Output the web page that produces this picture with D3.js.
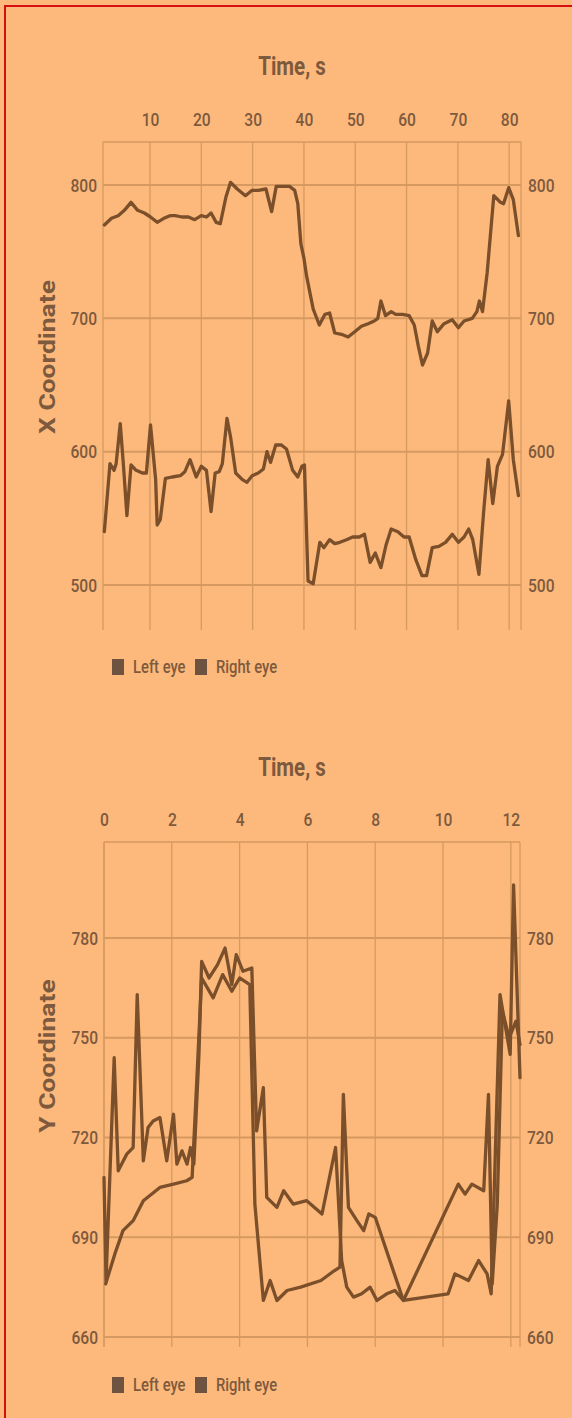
<!DOCTYPE html>
<html><head><meta charset="utf-8">
<script src="https://cdn.jsdelivr.net/npm/d3@7"></script>
<style>
html,body{margin:0;padding:0;background:#fdb97b;}
svg{display:block;}
text{font-family:Roboto,"Noto Sans",sans-serif;}
</style></head>
<body><svg id="c" width="572" height="1418"></svg>
<script>
// ---------- data ----------
const legendLabels = ["Left eye", "Right eye"];
const axisTitleTime = "Time, s";
const axisTitleX = "X Coordinate";
const axisTitleY = "Y Coordinate";

// Chart 1: X coordinate over time
const xTimeTicks = [10, 20, 30, 40, 50, 60, 70, 80];
const xValueTicks = [500, 600, 700, 800];
const leftEyeXTime = [1.1, 2.5, 3.8, 5.0, 6.3, 7.6, 8.9, 10.1, 11.4, 12.7, 13.9, 14.9, 16.2, 17.5, 18.7, 20.0, 21.0, 21.9, 22.9, 23.7, 24.8, 25.7, 27.0, 28.6, 29.9, 31.1, 32.6, 33.7, 34.6, 35.9, 37.2, 38.2, 38.8, 39.4, 40.0, 40.5, 41.8, 43.0, 44.1, 45.0, 46.0, 47.3, 48.6, 49.9, 51.2, 52.5, 53.7, 54.4, 55.0, 55.9, 57.0, 57.9, 59.2, 60.5, 61.5, 62.3, 63.1, 64.1, 65.0, 66.0, 67.3, 68.9, 70.1, 71.2, 72.8, 73.7, 74.2, 74.8, 75.7, 77.0, 78.3, 78.9, 79.9, 80.8, 81.8];
const leftEyeX = [770, 775, 777, 781, 787, 781, 779, 776, 772, 775, 777, 777, 776, 776, 774, 777, 776, 779, 772, 771, 791, 802, 797, 792, 796, 796, 797, 780, 799, 799, 799, 796, 786, 756, 745, 732, 707, 695, 703, 704, 689, 688, 686, 690, 694, 696, 698, 700, 713, 702, 705, 703, 703, 702, 695, 679, 665, 674, 698, 690, 696, 699, 693, 698, 700, 705, 713, 705, 734, 792, 787, 786, 798, 789, 762];
const rightEyeXTime = [1.1, 2.2, 3.0, 3.4, 4.2, 4.8, 5.5, 6.3, 7.3, 8.5, 9.3, 10.1, 11.1, 11.4, 12.0, 13.0, 14.3, 15.9, 16.8, 17.8, 19.0, 20.0, 21.0, 21.9, 22.7, 23.5, 24.1, 25.0, 25.7, 26.7, 28.0, 28.9, 29.9, 31.1, 32.1, 32.8, 33.5, 34.5, 35.6, 36.6, 37.8, 38.8, 39.6, 40.1, 40.8, 41.8, 43.1, 43.9, 45.0, 46.0, 47.0, 48.3, 49.5, 50.8, 51.8, 52.9, 53.9, 55.0, 56.0, 57.0, 58.3, 59.5, 60.5, 61.8, 63.0, 63.9, 65.0, 66.3, 67.6, 68.9, 70.1, 71.2, 72.1, 72.9, 74.1, 75.0, 75.9, 76.8, 77.7, 78.7, 79.9, 80.8, 81.8];
const rightEyeX = [540, 591, 586, 591, 621, 591, 552, 590, 586, 584, 584, 620, 579, 545, 549, 580, 581, 582, 585, 594, 581, 589, 586, 555, 584, 585, 591, 625, 611, 584, 579, 577, 582, 584, 587, 600, 592, 605, 605, 602, 586, 581, 589, 590, 503, 501, 532, 528, 534, 531, 532, 534, 536, 536, 538, 517, 524, 513, 530, 542, 540, 536, 536, 519, 507, 507, 528, 529, 532, 538, 532, 536, 542, 534, 508, 554, 594, 561, 589, 598, 638, 594, 567];

// Chart 2: Y coordinate over time
const yTimeTicks = [0, 2, 4, 6, 8, 10, 12];
const yValueTicks = [660, 690, 720, 750, 780];
const leftEyeYTime = [0, 0.06, 0.3, 0.42, 0.67, 0.86, 0.98, 1.16, 1.3, 1.45, 1.65, 1.85, 2.05, 2.15, 2.3, 2.45, 2.55, 2.65, 2.8, 2.88, 3.1, 3.35, 3.57, 3.77, 3.9, 4.1, 4.36, 4.5, 4.7, 4.8, 5.1, 5.3, 5.58, 5.98, 6.43, 6.83, 7.01, 7.16, 7.36, 7.6, 7.85, 8.05, 8.34, 8.58, 8.83, 10.45, 10.65, 10.85, 11.2, 11.34, 11.45, 11.6, 11.75, 11.95, 12.15, 12.27];
const leftEyeY = [708, 677, 744, 710, 715, 717, 763, 713, 723, 725, 726, 713, 727, 712, 716, 712, 717, 712, 745, 773, 768, 772, 777, 766, 775, 770, 771, 722, 735, 702, 699, 704, 700, 701, 697, 717, 683, 675, 672, 673, 675, 671, 673, 674, 671, 706, 703, 706, 704, 733, 676, 700, 758, 750, 755, 748];
const rightEyeYTime = [0.05, 0.32, 0.56, 0.86, 1.16, 1.65, 2.05, 2.44, 2.6, 2.75, 2.88, 3.22, 3.5, 3.77, 4.0, 4.3, 4.45, 4.7, 4.9, 5.1, 5.4, 5.8, 6.4, 6.8, 6.96, 7.06, 7.21, 7.46, 7.66, 7.81, 8.0, 8.83, 10.15, 10.35, 10.75, 11.05, 11.3, 11.42, 11.68, 11.98, 12.08, 12.27];
const rightEyeY = [676, 685, 692, 695, 701, 705, 706, 707, 708, 740, 768, 762, 769, 764, 768, 766, 700, 671, 677, 671, 674, 675, 677, 680, 681, 733, 699, 695, 692, 697, 696, 671, 673, 679, 677, 683, 679, 673, 763, 745, 796, 738];

// ---------- style ----------
const BG = "#fdb97b", TXT = "#7d5a3e", LINE = "#7a4f2a", GRID = "#d69a60", LEG = "#6e5440";
const svg = d3.select("#c");
svg.append("rect").attr("x", 0).attr("y", 0).attr("width", 572).attr("height", 1418).attr("fill", BG);
svg.append("rect").attr("x", 5).attr("y", 6).attr("width", 572).attr("height", 1418)
  .attr("fill", "none").attr("stroke", "#d61010").attr("stroke-width", 2);

function squash(sel, f) {
  sel.each(function () {
    const L = this.getComputedTextLength();
    this.setAttribute("textLength", L * f);
    this.setAttribute("lengthAdjust", "spacingAndGlyphs");
  });
}

function drawChart(c) {
  const x = d3.scaleLinear().domain(c.xDomain).range([c.left, c.right]);
  const y = d3.scaleLinear().domain(c.yDomain).range([c.bottom, c.top]);
  const g = svg.append("g");

  g.append("g").selectAll("line").data(c.xTicks).join("line")
    .attr("x1", d => x(d)).attr("x2", d => x(d)).attr("y1", c.top).attr("y2", c.bottom)
    .attr("stroke", GRID).attr("stroke-width", 1.3);
  g.append("g").selectAll("line").data(c.yTicks).join("line")
    .attr("x1", c.left).attr("x2", c.right).attr("y1", d => y(d)).attr("y2", d => y(d))
    .attr("stroke", GRID).attr("stroke-width", 2);
  g.append("line").attr("x1", c.left).attr("x2", c.right).attr("y1", c.top).attr("y2", c.top)
    .attr("stroke", GRID).attr("stroke-width", 1.3);
  [c.left, c.right].forEach(px => g.append("line").attr("x1", px).attr("x2", px)
    .attr("y1", c.top).attr("y2", c.bottom).attr("stroke", GRID).attr("stroke-width", 1.3));

  const axTop = d3.axisTop(x).tickValues(c.xTicks).tickSize(0).tickPadding(0);
  const aT = g.append("g").attr("transform", `translate(0,${c.tickY})`).call(axTop);
  const axL = d3.axisLeft(y).tickValues(c.yTicks).tickSize(0).tickPadding(0);
  const aL = g.append("g").attr("transform", `translate(${c.left - 6},0)`).call(axL);
  const axR = d3.axisRight(y).tickValues(c.yTicks).tickSize(0).tickPadding(0);
  const aR = g.append("g").attr("transform", `translate(${c.right + 7},0)`).call(axR);
  [aT, aL, aR].forEach(a => {
    a.select(".domain").remove();
    a.selectAll("text").attr("fill", TXT).attr("font-size", 19).attr("font-family", "Roboto")
      .attr("font-weight", 500);
  });
  aT.selectAll("text").attr("dy", "0.35em");
  [aT, aL, aR].forEach(a => squash(a.selectAll("text"), 0.82));

  const t = g.append("text").attr("x", (c.left + c.right) / 2 - 20).attr("y", c.titleY)
    .attr("text-anchor", "middle").attr("dy", "0.35em").attr("fill", TXT)
    .attr("font-size", 25).attr("font-weight", 700).text(axisTitleTime);
  squash(t, 0.82);
  const yl = g.append("text").attr("transform", `translate(${c.ylabX},${c.ylabY}) rotate(-90)`)
    .attr("text-anchor", "middle").attr("dy", "0.35em").attr("fill", TXT)
    .attr("font-size", 22).attr("font-weight", 700).text(c.ylab);
  squash(yl, 1.2);

  const line = d3.line().x(d => x(d[0])).y(d => y(d[1]));
  c.series.forEach(s => {
    g.append("path").datum(d3.zip(s.t, s.v)).attr("d", line)
      .attr("fill", "none").attr("stroke", LINE).attr("stroke-width", 3.3)
      .attr("stroke-linejoin", "round").attr("stroke-linecap", "round");
  });

  const lg = g.append("g").attr("transform", `translate(112,${c.legendY})`);
  const legendX = [0, 83];
  legendLabels.forEach((lab, i) => {
    const lx = legendX[i];
    lg.append("rect").attr("x", lx).attr("y", -8).attr("width", 12).attr("height", 16).attr("fill", LEG);
    const tx = lg.append("text").attr("x", lx + 21).attr("y", 0).attr("dy", "0.35em")
      .attr("fill", TXT).attr("font-size", 18).attr("font-weight", 500).text(lab);
    squash(tx, 0.82);
  });
}

drawChart({
  left: 103, right: 521, top: 142, bottom: 630,
  xDomain: [0.84, 82.3], yDomain: [466.25, 832.25],
  xTicks: xTimeTicks, yTicks: xValueTicks,
  tickY: 119, titleY: 66, ylab: axisTitleX, ylabX: 47, ylabY: 357, legendY: 667,
  series: [{ t: leftEyeXTime, v: leftEyeX }, { t: rightEyeXTime, v: rightEyeX }]
});
drawChart({
  left: 104, right: 520, top: 842, bottom: 1347,
  xDomain: [0, 12.27], yDomain: [657, 808.9],
  xTicks: yTimeTicks, yTicks: yValueTicks,
  tickY: 819, titleY: 767, ylab: axisTitleY, ylabX: 47, ylabY: 1056, legendY: 1385,
  series: [{ t: leftEyeYTime, v: leftEyeY }, { t: rightEyeYTime, v: rightEyeY }]
});
</script>
</body></html>
